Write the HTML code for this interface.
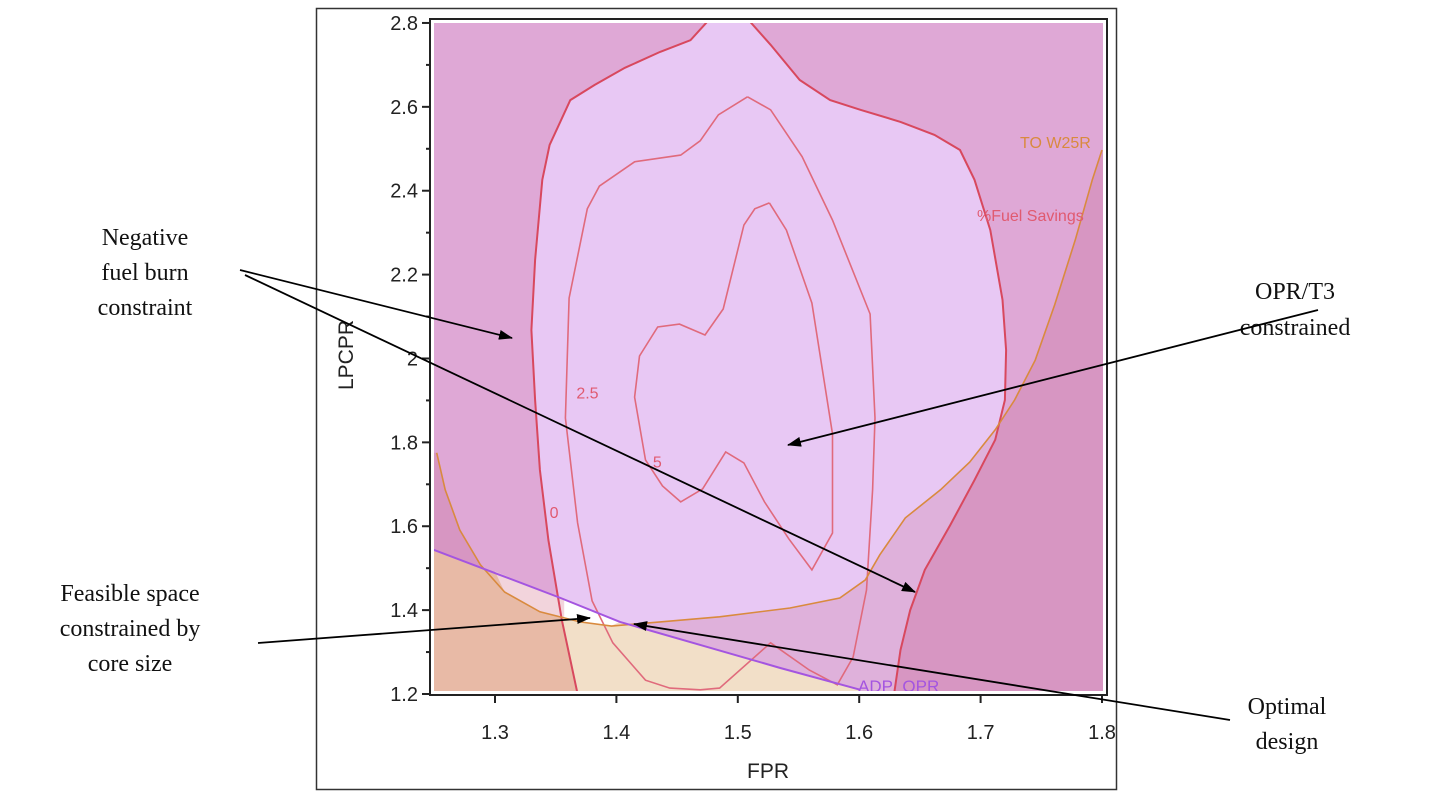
<!DOCTYPE html>
<html><head><meta charset="utf-8">
<style>
html,body{margin:0;padding:0;background:#fff;}
body{width:1433px;height:798px;overflow:hidden;position:relative;}
svg{position:absolute;left:0;top:0;}
.ann{font-family:"Liberation Serif",serif;font-size:24px;fill:#111;}
.tick{font-family:"Liberation Sans",sans-serif;font-size:20px;fill:#222;}
</style></head>
<body>
<svg id="chart" width="1433" height="798" viewBox="0 0 1433 798">
 <defs>
  <clipPath id="pc"><rect x="434" y="23" width="669" height="668"/></clipPath>
  <marker id="ah" markerWidth="14" markerHeight="10" refX="13" refY="5" orient="auto" markerUnits="userSpaceOnUse">
   <path d="M0,0 L14,5 L0,10 z" fill="#000"/>
  </marker>
 </defs>
 <rect x="316.5" y="8.5" width="800" height="781" fill="#fff" stroke="#333" stroke-width="1.5"/>
 <g id="plot" clip-path="url(#pc)"></g>
 <rect x="430" y="19" width="677" height="676" fill="none" stroke="#222" stroke-width="2"/>
 <g id="axes"></g>
 <text x="768" y="778" text-anchor="middle" font-family="Liberation Sans,sans-serif" font-size="21" fill="#222">FPR</text>
 <text x="0" y="0" transform="translate(353,355) rotate(-90)" text-anchor="middle" font-family="Liberation Sans,sans-serif" font-size="21" fill="#222">LPCPR</text>

 <g>
  <text class="ann" x="145" y="245" text-anchor="middle">Negative</text>
  <text class="ann" x="145" y="280" text-anchor="middle">fuel burn</text>
  <text class="ann" x="145" y="315" text-anchor="middle">constraint</text>
 </g>
 <g>
  <text class="ann" x="1295" y="299" text-anchor="middle">OPR/T3</text>
  <text class="ann" x="1295" y="335" text-anchor="middle">constrained</text>
 </g>
 <g>
  <text class="ann" x="130" y="601" text-anchor="middle">Feasible space</text>
  <text class="ann" x="130" y="636" text-anchor="middle">constrained by</text>
  <text class="ann" x="130" y="671" text-anchor="middle">core size</text>
 </g>
 <g>
  <text class="ann" x="1287" y="714" text-anchor="middle">Optimal</text>
  <text class="ann" x="1287" y="749" text-anchor="middle">design</text>
 </g>
 <g stroke="#000" stroke-width="1.8" fill="none">
  <line x1="240" y1="270" x2="512" y2="338" marker-end="url(#ah)"/>
  <line x1="245" y1="275" x2="915" y2="592" marker-end="url(#ah)"/>
  <line x1="1318" y1="310" x2="788" y2="445" marker-end="url(#ah)"/>
  <line x1="258" y1="643" x2="590" y2="618" marker-end="url(#ah)"/>
  <line x1="1230" y1="720" x2="634" y2="624" marker-end="url(#ah)"/>
 </g>
</svg>
<script>
const xTicks=[1.3,1.4,1.5,1.6,1.7,1.8];
const yTicks=[1.2,1.4,1.6,1.8,2.0,2.2,2.4,2.6,2.8];
const yTickLabels=["1.2","1.4","1.6","1.8","2","2.2","2.4","2.6","2.8"];
const contour0=[[1.368,1.18],[1.368,1.2],[1.355,1.377],[1.344,1.567],[1.337,1.734],[1.333,1.901],[1.330,2.068],[1.333,2.235],[1.339,2.426],[1.345,2.509],[1.362,2.616],[1.382,2.652],[1.407,2.693],[1.436,2.731],[1.461,2.759],[1.477,2.81],[1.508,2.81],[1.527,2.748],[1.551,2.664],[1.576,2.616],[1.601,2.593],[1.634,2.564],[1.662,2.533],[1.683,2.497],[1.695,2.426],[1.708,2.306],[1.718,2.140],[1.721,2.020],[1.720,1.901],[1.712,1.806],[1.695,1.710],[1.675,1.603],[1.654,1.496],[1.642,1.400],[1.634,1.305],[1.629,1.205],[1.628,1.18]];
const contour25=[[1.508,2.624],[1.484,2.581],[1.469,2.519],[1.453,2.485],[1.415,2.469],[1.386,2.411],[1.376,2.357],[1.361,2.144],[1.358,1.858],[1.368,1.608],[1.380,1.422],[1.397,1.322],[1.424,1.233],[1.444,1.214],[1.469,1.210],[1.485,1.214],[1.527,1.322],[1.559,1.257],[1.582,1.222],[1.595,1.288],[1.606,1.448],[1.611,1.687],[1.613,1.858],[1.609,2.106],[1.578,2.330],[1.553,2.481],[1.527,2.593]];
const contour5=[[1.526,2.371],[1.514,2.357],[1.505,2.318],[1.488,2.118],[1.473,2.056],[1.452,2.082],[1.434,2.075],[1.419,2.006],[1.415,1.908],[1.424,1.758],[1.438,1.696],[1.453,1.658],[1.471,1.689],[1.490,1.777],[1.505,1.751],[1.522,1.658],[1.542,1.570],[1.561,1.496],[1.578,1.584],[1.578,1.820],[1.561,2.132],[1.540,2.306]];
const w25r=[[1.252,1.775],[1.259,1.687],[1.271,1.591],[1.288,1.508],[1.308,1.443],[1.337,1.396],[1.370,1.372],[1.396,1.362],[1.436,1.372],[1.485,1.384],[1.543,1.405],[1.584,1.429],[1.605,1.472],[1.617,1.532],[1.638,1.620],[1.667,1.687],[1.691,1.753],[1.712,1.830],[1.728,1.901],[1.745,1.996],[1.761,2.128],[1.778,2.283],[1.792,2.426],[1.800,2.497]];
const adpOpr=[[1.24,1.552],[1.250,1.543],[1.304,1.484],[1.354,1.429],[1.403,1.372],[1.469,1.317],[1.535,1.262],[1.601,1.210]];
const contourLabels=[["0",1.345,1.62],["2.5",1.367,1.905],["5",1.43,1.74]];

const X0=495,XS=1214,Y0=694,YS=419.4;
function sx(v){return X0+(v-1.3)*XS;}
function sy(v){return Y0-(v-1.2)*YS;}
const NS="http://www.w3.org/2000/svg";
function pts(a){return a.map(p=>sx(p[0]).toFixed(1)+","+sy(p[1]).toFixed(1)).join(" ");}
function mk(tag,attrs,parent){const e=document.createElementNS(NS,tag);for(const k in attrs)e.setAttribute(k,attrs[k]);parent.appendChild(e);return e;}
const plot=document.getElementById('plot');
const axes=document.getElementById('axes');

let e;
e=mk('rect',{x:430,y:19,width:680,height:680,fill:'#dfa8d6'},plot);



e=mk('polygon',{points:pts(contour0),fill:'#e8c8f4'},plot);



const outU=w25r.concat([[1.82,2.497],[1.82,1.15],[1.24,1.15],[1.24,1.775]]);
e=mk('polygon',{points:pts(outU),fill:'rgba(175,45,80,0.15)'},plot);



const below=adpOpr.concat([[1.601,1.15],[1.24,1.15]]);
e=mk('polygon',{points:pts(below),fill:'#f2dfc8'},plot);



const salmon=adpOpr.slice(0,3).concat([[1.356,1.427],[1.355,1.377],[1.368,1.2],[1.368,1.15],[1.24,1.15]]);
e=mk('polygon',{points:pts(salmon),fill:'#e8baa6'},plot);



e=mk('polygon',{points:pts([[1.30,1.492],[1.354,1.429],[1.403,1.372],[1.396,1.362],[1.370,1.372],[1.337,1.396],[1.308,1.443]]),fill:'#f2d4dc'},plot);



e=mk('polygon',{points:pts([[1.357,1.426],[1.403,1.372],[1.396,1.363],[1.370,1.373],[1.357,1.378]]),fill:'#ffffff'},plot);



e=mk('polyline',{points:pts(contour25.concat([contour25[0]])),fill:'none',stroke:'#e06a7c','stroke-width':1.6},plot);


e=mk('polyline',{points:pts(contour5.concat([contour5[0]])),fill:'none',stroke:'#e06a7c','stroke-width':1.6},plot);


e=mk('polyline',{points:pts(contour0),fill:'none',stroke:'#d8485e','stroke-width':2},plot);


e=mk('polyline',{points:pts(w25r),fill:'none',stroke:'#d98a3e','stroke-width':1.6},plot);


e=mk('polyline',{points:pts(adpOpr),fill:'none',stroke:'#a455e0','stroke-width':2},plot);



contourLabels.forEach(c=>{
  const t=mk('text',{x:sx(c[1]),y:sy(c[2]),fill:'#e05a70','font-family':'Liberation Sans,sans-serif','font-size':16},plot);
  t.textContent=c[0];
  
  
});
e=mk('text',{x:1020,y:148,fill:'#d98a3e','font-family':'Liberation Sans,sans-serif','font-size':16},plot);
e.textContent='TO W25R';


e=mk('text',{x:977,y:221,fill:'#e05a70','font-family':'Liberation Sans,sans-serif','font-size':16},plot);
e.textContent='%Fuel Savings';


e=mk('text',{x:858,y:692,fill:'#a455e0','font-family':'Liberation Sans,sans-serif','font-size':17},plot);
e.textContent='ADP_OPR';



yTicks.forEach((v,i)=>{
  const y=sy(v);
  const l=mk('line',{x1:422,x2:430,y1:y,y2:y,stroke:'#222','stroke-width':2},axes);
  
  
  const t=mk('text',{x:418,y:y+7,'text-anchor':'end',class:'tick'},axes);
  t.textContent=yTickLabels[i];
  
  
  if(i<yTicks.length-1){
    const m=mk('line',{x1:426,x2:430,y1:sy(v+0.1),y2:sy(v+0.1),stroke:'#222','stroke-width':2},axes);
    
    
  }
});
xTicks.forEach(v=>{
  const x=sx(v);
  const l=mk('line',{x1:x,x2:x,y1:695,y2:703,stroke:'#222','stroke-width':2},axes);
  
  
  const t=mk('text',{x:x,y:739,'text-anchor':'middle',class:'tick'},axes);
  t.textContent=v.toFixed(1);
  
  
});
</script>
</body></html>
